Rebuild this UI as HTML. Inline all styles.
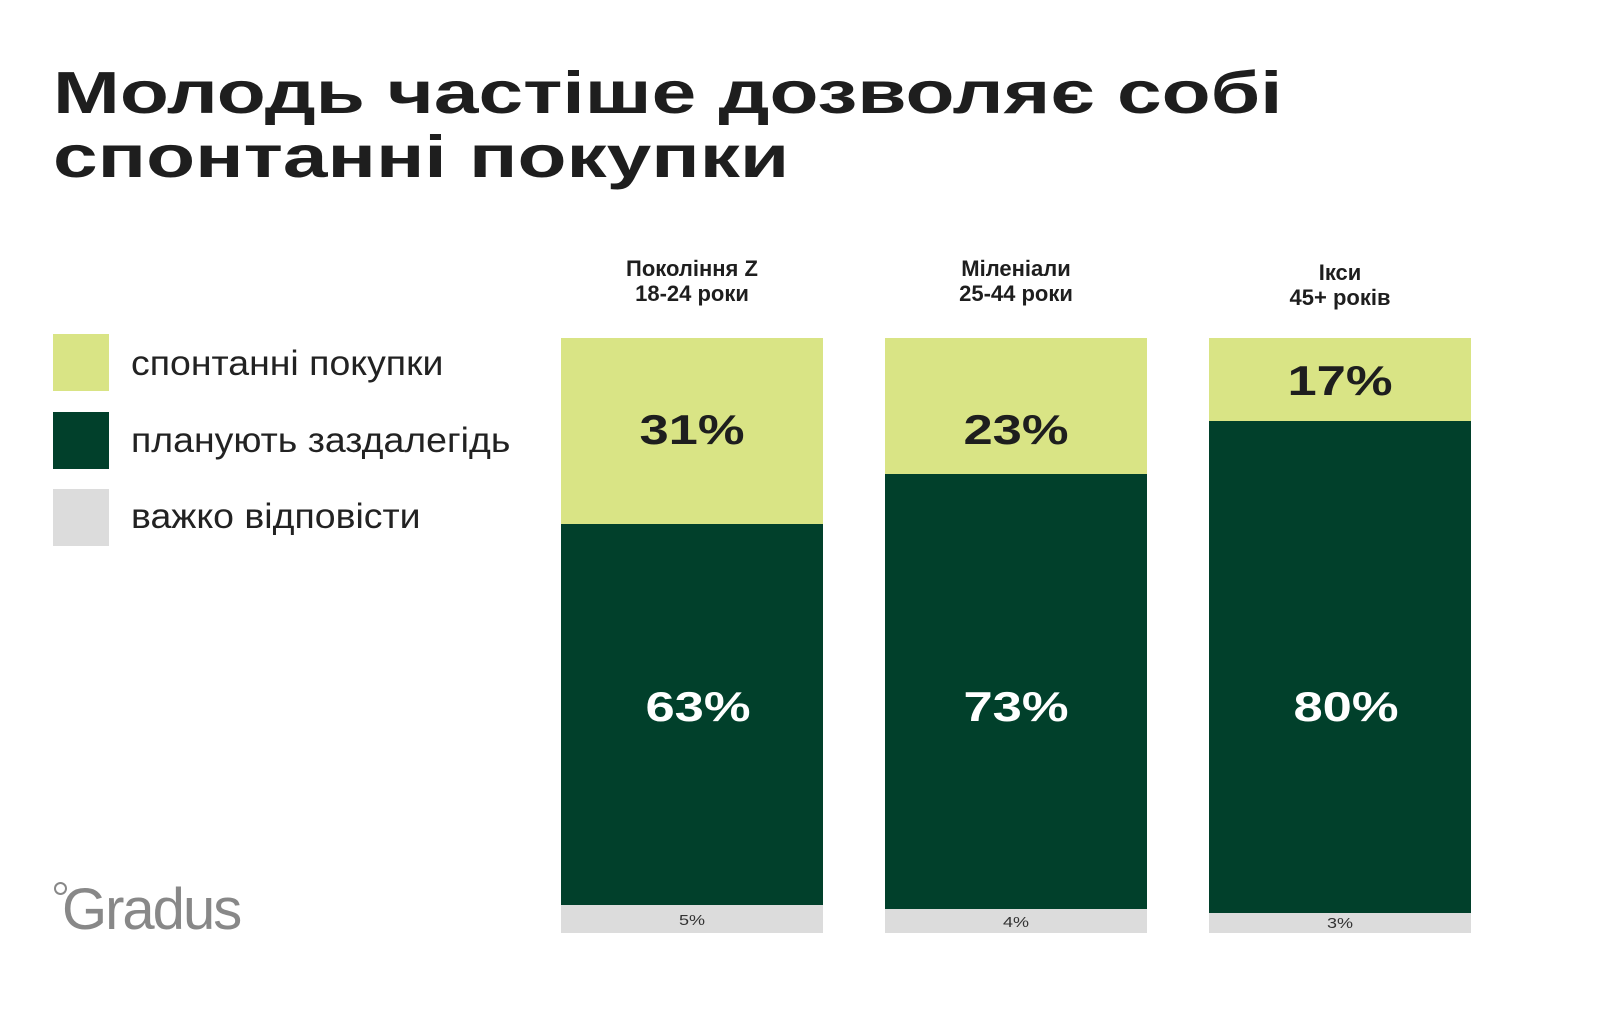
<!DOCTYPE html>
<html><head><meta charset="utf-8"><style>
body{margin:0;width:1600px;height:1014px;background:#fff;position:relative;overflow:hidden;font-family:"Liberation Sans",sans-serif;color:#1e1e1e}
.t{position:absolute;white-space:nowrap}
.title{left:53px;font-size:59px;font-weight:bold;transform-origin:left top;transform:scaleX(1.36)}
.sq{position:absolute;left:53px;width:56px;height:57px}
.lg{position:absolute;left:131px;font-size:35px;color:#222;transform-origin:left top;transform:scaleX(1.07)}
.bar{position:absolute;width:262px}
.hd{position:absolute;width:262px;text-align:center;font-size:22px;font-weight:bold;line-height:25px}
.p{position:absolute;width:262px;text-align:center;font-size:42px;font-weight:bold;transform:scaleX(1.25)}
.s{position:absolute;width:262px;text-align:center;font-size:15px;color:#333;transform:scaleX(1.2)}
</style></head><body>
<div class="t title" style="top:59px">Молодь частіше дозволяє собі</div>
<div class="t title" style="top:123px">спонтанні покупки</div>

<div class="sq" style="top:334px;background:#d9e485"></div>
<div class="sq" style="top:412px;background:#01402b"></div>
<div class="sq" style="top:489px;background:#dcdcdc"></div>
<div class="t lg" style="top:344px">спонтанні покупки</div>
<div class="t lg" style="top:421px">планують заздалегідь</div>
<div class="t lg" style="top:497px">важко відповісти</div>

<div class="hd" style="left:561px;top:256px">Покоління Z<br>18-24 роки</div>
<div class="hd" style="left:885px;top:256px">Міленіали<br>25-44 роки</div>
<div class="hd" style="left:1209px;top:260px">Ікси<br>45+ років</div>

<div class="bar" style="left:561px;top:338px;height:186px;background:#d9e485"></div>
<div class="bar" style="left:561px;top:524px;height:381px;background:#01402b"></div>
<div class="bar" style="left:561px;top:905px;height:28px;background:#dcdcdc"></div>
<div class="bar" style="left:885px;top:338px;height:136px;background:#d9e485"></div>
<div class="bar" style="left:885px;top:474px;height:435px;background:#01402b"></div>
<div class="bar" style="left:885px;top:909px;height:24px;background:#dcdcdc"></div>
<div class="bar" style="left:1209px;top:338px;height:83px;background:#d9e485"></div>
<div class="bar" style="left:1209px;top:421px;height:492px;background:#01402b"></div>
<div class="bar" style="left:1209px;top:913px;height:20px;background:#dcdcdc"></div>

<div class="p" style="left:561px;top:406px">31%</div>
<div class="p" style="left:885px;top:406px">23%</div>
<div class="p" style="left:1209px;top:357px">17%</div>
<div class="p" style="left:567px;top:683px;color:#fff">63%</div>
<div class="p" style="left:885px;top:683px;color:#fff">73%</div>
<div class="p" style="left:1215px;top:683px;color:#fff">80%</div>
<div class="s" style="left:561px;top:912px">5%</div>
<div class="s" style="left:885px;top:914px">4%</div>
<div class="s" style="left:1209px;top:915px">3%</div>

<div class="t" style="left:54px;top:882px;width:9px;height:9px;border:2px solid #888;border-radius:50%"></div>
<div class="t" style="left:62px;top:876px;font-size:58px;color:#888;letter-spacing:-2px">Gradus</div>
</body></html>
